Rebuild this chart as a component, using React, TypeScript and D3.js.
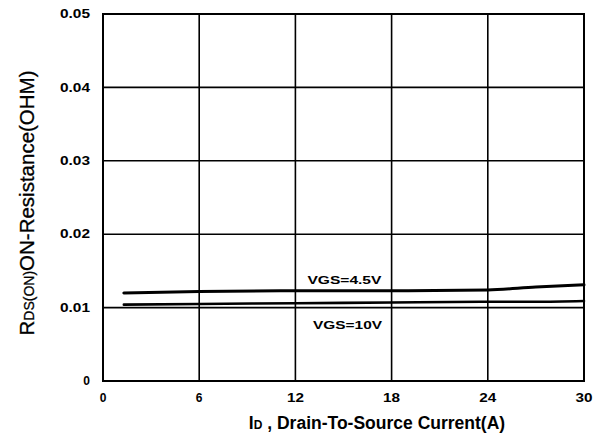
import * as d3 from 'd3'

const xTicks = [0, 6, 12, 18, 24, 30]
const yTicks = [0, 0.01, 0.02, 0.03, 0.04, 0.05]
const currentA = [1.3, 6, 12, 18, 24, 27, 30]
const rdsVgs45 = [0.012, 0.0122, 0.0123, 0.0123, 0.0124, 0.0128, 0.0131]
const rdsVgs10 = [0.0104, 0.0105, 0.0106, 0.0107, 0.0108, 0.0108, 0.0109]

const W = 604
const H = 437
const m = { left: 103, right: 20, top: 14, bottom: 56 }
const font = '"Liberation Sans", Arial, sans-serif'

export default function App() {
  const x = d3.scaleLinear().domain([0, 30]).range([m.left, W - m.right])
  const y = d3.scaleLinear().domain([0, 0.05]).range([H - m.bottom, m.top])

  const line = d3.line<number>()
    .x((_, i) => x(currentA[i]))
    .y((d) => y(d))
    .curve(d3.curveMonotoneX)

  // labels in the source are stretched sideways, so fit them to measured widths
  const fit = (s: string, per: number) => (s.length > 1 ? { textLength: s.length * per, lengthAdjust: 'spacingAndGlyphs' } : {})

  return (
    <div style={{ position: 'fixed', left: 0, top: 0 }}>
      <svg width={W} height={H} style={{ display: 'block', background: '#fff' }} fontFamily={font}>
        {xTicks.map((t) => (
          <line key={'gx' + t} x1={x(t)} x2={x(t)} y1={y(0)} y2={y(0.05)} stroke="#000" strokeWidth={1.6} />
        ))}
        {yTicks.map((t) => (
          <line key={'gy' + t} x1={x(0)} x2={x(30)} y1={y(t)} y2={y(t)} stroke="#000" strokeWidth={1.6} />
        ))}
        <rect x={x(0)} y={y(0.05)} width={x(30) - x(0)} height={y(0) - y(0.05)} fill="none" stroke="#000" strokeWidth={2} />

        <path d={line(rdsVgs45) ?? ''} fill="none" stroke="#000" strokeWidth={3} strokeLinecap="round" />
        <path d={line(rdsVgs10) ?? ''} fill="none" stroke="#000" strokeWidth={2.6} strokeLinecap="round" />

        <text x={x(12.75)} y={y(0.0132)} fontSize={11.5} fontWeight="bold" textLength={74} lengthAdjust="spacingAndGlyphs">VGS=4.5V</text>
        <text x={x(13.1)} y={y(0.0071)} fontSize={11.5} fontWeight="bold" textLength={69} lengthAdjust="spacingAndGlyphs">VGS=10V</text>

        {yTicks.map((t) => {
          const s = t === 0 ? '0' : d3.format('.2f')(t)
          return (
            <text key={'ty' + t} x={x(0) - 13} y={y(t)} dy="0.35em" textAnchor="end" fontSize={12} fontWeight="bold" {...fit(s, 7.5)}>
              {s}
            </text>
          )
        })}
        {xTicks.map((t) => (
          <text key={'tx' + t} x={x(t)} y={y(0) + 21} textAnchor="middle" fontSize={12} fontWeight="bold" {...fit(String(t), 8.5)}>
            {t}
          </text>
        ))}

        <text x={377} y={429} textAnchor="middle" fontSize={17.5} fontWeight="bold">
          <tspan>I</tspan>
          <tspan fontSize={12}>D</tspan>
          <tspan> , Drain-To-Source Current(A)</tspan>
        </text>

        <text transform={`translate(34,203) rotate(-90)`} textAnchor="middle" fontSize={20.5} stroke="#000" strokeWidth={0.3}>
          <tspan>R</tspan>
          <tspan fontSize={14}>DS(ON)</tspan>
          <tspan>ON-Resistance(OHM)</tspan>
        </text>
      </svg>
    </div>
  )
}
